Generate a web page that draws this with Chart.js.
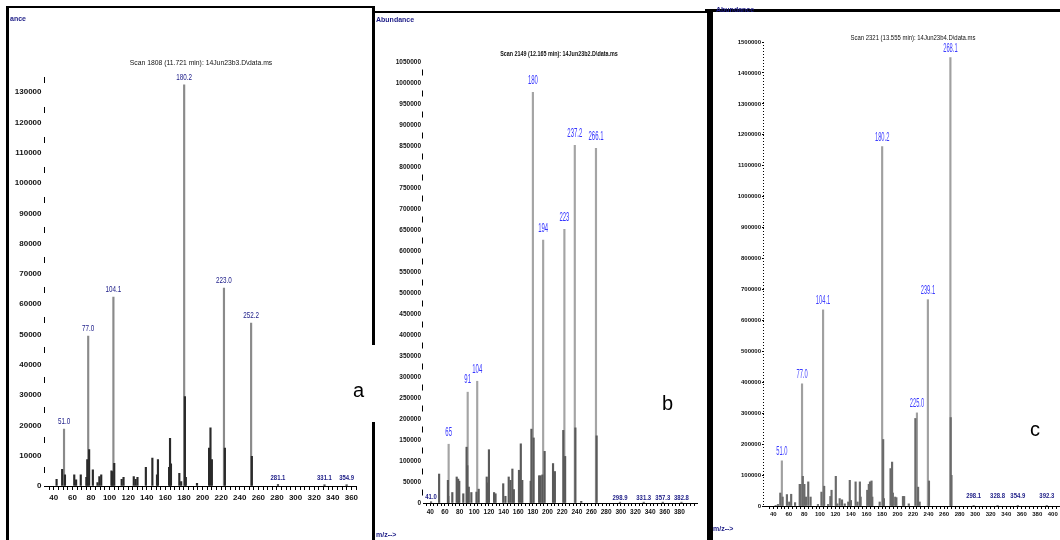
<!DOCTYPE html>
<html>
<head>
<meta charset="utf-8">
<script src="https://cdn.jsdelivr.net/npm/chart.js@4.4.1/dist/chart.umd.min.js"></script>
<style>
  body { margin: 0; background: #fff; width: 1060px; height: 540px; position: relative; overflow: hidden; font-family: 'Liberation Sans', Arial, sans-serif; }
  canvas { position: absolute; }
  .line { position: absolute; background: #000; }
  .t { position: absolute; white-space: nowrap; line-height: 1; }
  .title { color: #111; font-family: 'Liberation Sans Narrow', 'Liberation Sans', Arial, sans-serif; transform: translate(-50%, -50%) scaleX(0.85); }
  .navy { color: #1c1c86; font-weight: bold; font-size: 7px; font-family: 'Liberation Sans Narrow', 'Liberation Sans', Arial, sans-serif; }
  .letter { font-size: 20px; color: #000; }
</style>
</head>
<body>

<canvas id="chartA" width="362" height="531" style="left:10px; top:9px;"></canvas>
<canvas id="chartB" width="333" height="526" style="left:375px; top:14px;"></canvas>
<canvas id="chartC" width="346" height="528" style="left:714px; top:12px;"></canvas>

<!-- frames -->
<div class="line" style="left:6px; top:6px; width:368px; height:2px;"></div>
<div class="line" style="left:6px; top:6px; width:3px; height:534px;"></div>
<div class="line" style="left:372px; top:6px; width:3px; height:339px;"></div>
<div class="line" style="left:372px; top:422px; width:3px; height:118px;"></div>
<div class="line" style="left:373px; top:11px; width:336px; height:2px;"></div>
<div class="line" style="left:707px; top:11px; width:2px; height:529px;"></div>
<div class="line" style="left:705px; top:9px; width:355px; height:3px;"></div>
<div class="line" style="left:709px; top:9px; width:4px; height:531px;"></div>

<div class="t navy" style="left:10px; top:15px;">ance</div>
<div class="t title" style="left:201px; top:63px; font-size:8px;">Scan 1808 (11.721 min): 14Jun23b3.D\data.ms</div>
<div class="t letter" style="left:353px; top:380px;">a</div>

<div class="t navy" style="left:376px; top:16px;">Abundance</div>
<div class="t title" style="left:559px; top:54px; font-size:7.5px; font-weight:bold; transform: translate(-50%, -50%) scaleX(0.72);">Scan 2149 (12.165 min): 14Jun23b2.D\data.ms</div>
<div class="t letter" style="left:662px; top:393px;">b</div>
<div class="t navy" style="left:376px; top:531px;">m/z--&gt;</div>

<div class="t navy" style="left:716px; top:6px;">Abundance</div>
<div class="t title" style="left:913px; top:37px; font-size:7px;">Scan 2321 (13.555 min): 14Jun23b4.D\data.ms</div>
<div class="t letter" style="left:1030px; top:419px;">c</div>
<div class="t navy" style="left:713px; top:525px;">m/z--&gt;</div>

<script>
// ---- panel a ----
const aPeakMz = [51.0, 77.0, 104.1, 180.2, 223.0, 252.2];
const aPeakAbund = [18800, 49500, 62400, 132400, 65300, 53800];
const aPeakText = ['51.0', '77.0', '104.1', '180.2', '223.0', '252.2'];
const aFragMz = [43, 49, 52, 62, 64, 69, 75, 76, 78, 82, 87, 89, 91, 102, 103, 105, 113, 115, 126, 128,
                 130, 139, 146, 151, 152, 164, 165, 166, 175, 177, 181, 182, 194, 207, 208.5, 210, 224, 253];
const aFragAbund = [2200, 5500, 3700, 3700, 2000, 3700, 2900, 8700, 12000, 5300, 1100, 3100, 3700, 5000, 4800, 7500, 2200, 2900, 3100, 2200,
                    2900, 6200, 9200, 3700, 8700, 6200, 15700, 7300, 4200, 1500, 29500, 2900, 900, 12500, 19200, 8700, 12500, 9800];
const aSmallMz = [281.1, 331.1, 354.9];
const aSmallAbund = [500, 400, 400];
const aSmallText = ['281.1', '331.1', '354.9'];
const aXLabels = [40, 60, 80, 100, 120, 140, 160, 180, 200, 220, 240, 260, 280, 300, 320, 340, 360];
const aYLabels = [0, 10000, 20000, 30000, 40000, 50000, 60000, 70000, 80000, 90000, 100000, 110000, 120000, 130000];

// ---- panel b ----
const bPeakMz = [65, 91, 104, 180, 194, 223, 237.2, 266.1];
const bPeakAbund = [140000, 264000, 290000, 978000, 626000, 652000, 852000, 845000];
const bPeakText = ['65', '91', '104', '180', '194', '223', '237.2', '266.1'];
const bFragMz = [52, 64, 64.5, 70, 76, 78, 79.5, 85, 89.5, 90.5, 92.5, 96, 103, 106, 117, 118, 120, 127, 129, 139.5,
                 142.5, 147, 149.5, 152, 154, 161, 163.5, 165.5, 177, 178, 181, 188.5, 190.5, 193, 196, 207.5, 210, 221.5, 224, 238,
                 246, 267];
const bFragAbund = [69000, 54000, 16000, 25000, 62000, 57000, 52000, 22000, 133000, 89000, 38000, 25000, 26000, 33000, 62000, 48000, 127000, 25000, 22000, 46000,
                    16000, 62000, 54000, 81000, 32000, 78000, 141000, 54000, 52000, 176000, 155000, 65000, 65000, 67000, 123000, 94000, 75000, 173000, 111000, 179000,
                    4000, 160000];
const bSmallMz = [41.0, 298.9, 331.3, 357.3, 382.8];
const bSmallAbund = [3000, 2000, 2000, 2000, 2000];
const bSmallText = ['41.0', '298.9', '331.3', '357.3', '382.8'];
const bXLabels = [40, 60, 80, 100, 120, 140, 160, 180, 200, 220, 240, 260, 280, 300, 320, 340, 360, 380];
const bYLabels = [0, 50000, 100000, 150000, 200000, 250000, 300000, 350000, 400000, 450000, 500000,
                  550000, 600000, 650000, 700000, 750000, 800000, 850000, 900000, 950000, 1000000, 1050000];

// ---- panel c ----
const cPeakMz = [51.0, 77.0, 104.1, 180.2, 225.0, 239.1, 268.1];
const cPeakAbund = [146000, 395000, 634000, 1162000, 301000, 667000, 1450000];
const cPeakText = ['51.0', '77.0', '104.1', '180.2', '225.0', '239.1', '268.1'];
const cFragMz = [43, 46, 49, 52, 57.5, 60.5, 63, 68, 74, 75, 78, 80, 82, 85, 88, 97.5, 102, 105.5, 110.5, 113.5,
                 115, 120.5, 122.5, 125.5, 128.5, 132, 136.5, 138.5, 140, 146, 148.5, 151.5, 152.5, 161, 163, 164.5, 166.5, 167.5, 177, 181.5,
                 182.5, 191, 193, 194, 197, 198.5, 207, 208.5, 214.5, 223, 226.5, 228.5, 240.5, 268.5, 269.5];
const cFragAbund = [2000, 5000, 42000, 29000, 37000, 13000, 38000, 11000, 70000, 70000, 96000, 70000, 29000, 78000, 29000, 5000, 45000, 64000, 5000, 31000,
                    51000, 96000, 7000, 24000, 20000, 7000, 13000, 83000, 18000, 78000, 13000, 78000, 29000, 51000, 70000, 78000, 81000, 29000, 13000, 215000,
                    24000, 121000, 142000, 42000, 29000, 27000, 31000, 31000, 7000, 283000, 61000, 13000, 81000, 286000, 99000];
const cSmallMz = [298.1, 328.8, 354.9, 392.3];
const cSmallAbund = [2000, 2000, 2000, 2000];
const cSmallText = ['298.1', '328.8', '354.9', '392.3'];
const cXLabels = [40, 60, 80, 100, 120, 140, 160, 180, 200, 220, 240, 260, 280, 300, 320, 340, 360, 380, 400];
const cYLabels = [0, 100000, 200000, 300000, 400000, 500000, 600000, 700000, 800000, 900000, 1000000,
                  1100000, 1200000, 1300000, 1400000, 1500000];

const NARROW = "'Liberation Sans Narrow', 'Liberation Sans', Arial, sans-serif";

function points(mz, ab) {
    return mz.map((m, i) => ({ x: m, y: ab[i] }));
}

// draws text above peaks, squeezed like the instrument print-out
function labelPlugin(sets) {
    return {
        id: 'peakLabels',
        afterDatasetsDraw(chart) {
            const ctx = chart.ctx;
            const xs = chart.scales.x;
            const ys = chart.scales.y;
            sets.forEach(s => {
                ctx.save();
                ctx.fillStyle = s.color;
                ctx.font = s.font;
                ctx.textAlign = 'center';
                ctx.textBaseline = 'bottom';
                s.mz.forEach((m, i) => {
                    ctx.save();
                    ctx.translate(xs.getPixelForValue(m), ys.getPixelForValue(s.ab[i]) - s.gap);
                    ctx.scale(s.squeeze, 1);
                    ctx.fillText(s.text[i], 0, 0);
                    ctx.restore();
                });
                ctx.restore();
            });
        }
    };
}

// the y axis of these print-outs is a broken / dotted line, border.dash does not reach it
function axisPlugin(dash, offset) {
    return {
        id: 'dashedAxis',
        afterDraw(chart) {
            const ctx = chart.ctx;
            const ys = chart.scales.y;
            const x = Math.round(ys.right) - 0.5;
            ctx.save();
            ctx.strokeStyle = '#000';
            ctx.lineWidth = 1;
            ctx.setLineDash(dash);
            ctx.lineDashOffset = offset;
            ctx.beginPath();
            ctx.moveTo(x, ys.top);
            ctx.lineTo(x, ys.bottom);
            ctx.stroke();
            ctx.restore();
        }
    };
}

function spectrum(id, p) {
    return new Chart(document.getElementById(id), {
        type: 'bar',
        data: {
            datasets: [
                { data: points(p.fragMz, p.fragAb), backgroundColor: p.fragColor, order: 1 },
                { data: points(p.smallMz, p.smallAb), backgroundColor: p.fragColor, order: 1 },
                { data: points(p.peakMz, p.peakAb), backgroundColor: p.peakColor, order: 2 }
            ]
        },
        options: {
            responsive: false,
            animation: false,
            devicePixelRatio: 1,
            datasets: { bar: { barThickness: p.barW, grouped: false } },
            layout: { padding: { top: p.padTop, right: p.padRight, left: 0, bottom: 0 } },
            plugins: { legend: { display: false }, tooltip: { enabled: false } },
            scales: {
                x: {
                    type: 'linear',
                    min: p.xMin,
                    max: p.xMax,
                    offset: false,
                    afterFit: s => { s.height = p.xH; },
                    afterBuildTicks: s => {
                        const t = [];
                        for (let v = p.xLabels[0] - 5; v <= p.xMax; v += 5) {
                            if (v >= p.xMin) t.push({ value: v });
                        }
                        s.ticks = t;
                    },
                    grid: { drawOnChartArea: false, offset: false, tickLength: p.xTickLen, color: '#000' },
                    border: { color: '#000', width: 1 },
                    ticks: {
                        autoSkip: false,
                        maxRotation: 0,
                        padding: p.xPad,
                        color: '#111',
                        font: { family: NARROW, size: p.tickSize, weight: 'bold' },
                        callback: v => p.xLabels.includes(v) ? String(v) : ''
                    }
                },
                y: {
                    min: 0,
                    max: p.yMax,
                    afterFit: s => { s.width = p.yW; },
                    afterBuildTicks: s => { s.ticks = p.yLabels.map(v => ({ value: v })); },
                    grid: { drawOnChartArea: false, drawTicks: p.yTickLen > 0, tickLength: p.yTickLen, color: '#000' },
                    border: { display: false },
                    ticks: {
                        autoSkip: false,
                        padding: p.yPad,
                        color: '#111',
                        font: { family: NARROW, size: p.tickSize, weight: 'bold' },
                        callback: v => String(v)
                    }
                }
            }
        },
        plugins: [
            axisPlugin(p.yDash, p.yDashOffset),
            labelPlugin([
                { mz: p.peakMz, ab: p.peakAb, text: p.peakText, color: p.labelColor, font: p.labelFont, squeeze: p.squeeze, gap: p.gap },
                { mz: p.smallMz, ab: p.smallAb, text: p.smallText, color: '#1c1c86', font: "bold 7px " + NARROW, squeeze: 0.85, gap: p.smallGap }
            ])
        ]
    });
}

spectrum('chartA', {
    peakMz: aPeakMz, peakAb: aPeakAbund, peakText: aPeakText,
    fragMz: aFragMz, fragAb: aFragAbund,
    smallMz: aSmallMz, smallAb: aSmallAbund, smallText: aSmallText,
    xLabels: aXLabels, yLabels: aYLabels,
    xMin: 30, xMax: 365, yMax: 136000,
    padTop: 65, padRight: 16, yW: 34.5, xH: 54,
    xTickLen: 4, xPad: 3, yTickLen: 0, yPad: 3, tickSize: 8,
    yDash: [6, 24], yDashOffset: 27,
    barW: 1.5, peakColor: '#8a8a8a', fragColor: '#2a2a2a',
    labelColor: '#20208a', labelFont: "9px 'Liberation Sans', Arial", squeeze: 0.7, gap: 3, smallGap: 3
});

spectrum('chartB', {
    peakMz: bPeakMz, peakAb: bPeakAbund, peakText: bPeakText,
    fragMz: bFragMz, fragAb: bFragAbund,
    smallMz: bSmallMz, smallAb: bSmallAbund, smallText: bSmallText,
    xLabels: bXLabels, yLabels: bYLabels,
    xMin: 30, xMax: 404, yMax: 1060000,
    padTop: 44, padRight: 11, yW: 48, xH: 37,
    xTickLen: 3, xPad: 2, yTickLen: 0, yPad: 2, tickSize: 6.5,
    yDash: [6, 15], yDashOffset: 9.5,
    barW: 1.5, peakColor: '#a4a4a4', fragColor: '#5a5a5a',
    labelColor: '#3535ff', labelFont: "12px 'Liberation Sans', Arial", squeeze: 0.5, gap: 6, smallGap: 1
});

spectrum('chartC', {
    peakMz: cPeakMz, peakAb: cPeakAbund, peakText: cPeakText,
    fragMz: cFragMz, fragAb: cFragAbund,
    smallMz: cSmallMz, smallAb: cSmallAbund, smallText: cSmallText,
    xLabels: cXLabels, yLabels: cYLabels,
    xMin: 28, xMax: 408, yMax: 1500000,
    padTop: 30, padRight: 1, yW: 50, xH: 34,
    xTickLen: 3, xPad: 2, yTickLen: 2, yPad: 1, tickSize: 6,
    yDash: [1, 2], yDashOffset: 0,
    barW: 1.5, peakColor: '#a0a0a0', fragColor: '#6a6a6a',
    labelColor: '#3c3cff', labelFont: "12px 'Liberation Sans', Arial", squeeze: 0.48, gap: 3, smallGap: 6
});
</script>
</body>
</html>
